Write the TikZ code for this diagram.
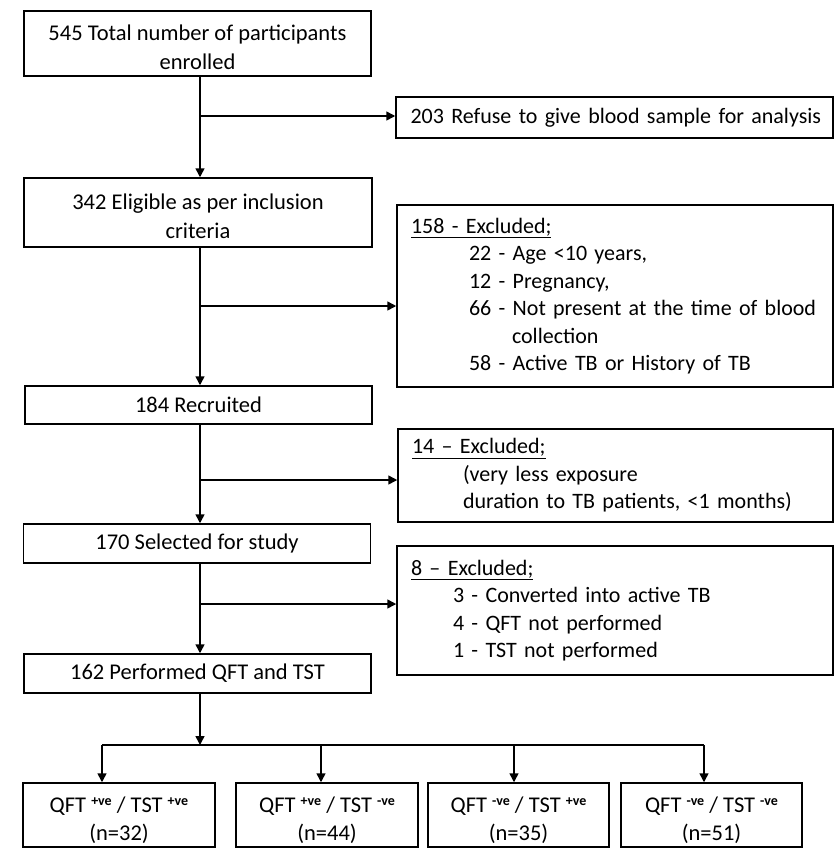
\documentclass[tikz,border=0pt]{standalone}
\usepackage{fontspec}
\setmainfont{Carlito}
\usetikzlibrary{arrows.meta}
\newcommand{\sgn}[1]{\raisebox{6.5pt}{\fontsize{14}{14}\selectfont\bfseries #1}}
\newcommand{\rowline}[2]{\mbox{\hspace*{#1pt}#2}}
\newcommand{\topstrut}[1]{\rule{0pt}{#1pt}}
\begin{document}
\begin{tikzpicture}[x=1pt,y=-1pt,
  box/.style={draw, line width=1.5pt, inner sep=0pt, align=center,
    font=\fontsize{22.5}{29.5}\selectfont},
  lbox/.style={draw, line width=1.5pt, inner xsep=14pt, inner ysep=0pt, align=left,
    font=\fontsize{22}{27.5}\selectfont},
  qbox/.style={draw, line width=1.5pt, inner sep=0pt, align=center,
    minimum height=64pt, font=\fontsize{22.5}{28}\selectfont},
  arr/.style={line width=1.5pt, -{Triangle[length=9pt,width=9pt]}},
  ln/.style={line width=1.5pt}]
\useasboundingbox (0,0) rectangle (835,855);

% main column
\node[box, minimum width=347pt, minimum height=65pt] (n545) at (197.5,43.5)
  {\topstrut{23}545 Total number of participants\\enrolled};
\node[box, minimum width=348pt, minimum height=69pt] (n342) at (198,212.5)
  {\topstrut{23}342 Eligible as per inclusion\\criteria};
\node[box, minimum width=347pt, minimum height=38pt] (n184) at (198.5,405)
  {184 Recruited};
\node[box, minimum width=347pt, minimum height=39pt] (n170) at (197,543.5)
  {170 Selected for study};
\node[box, minimum width=347pt, minimum height=39pt] (n162) at (197.5,673.5)
  {162 Performed QFT and TST};

% side boxes
\node[lbox, minimum height=41pt, text width=408pt, inner xsep=14.5pt] (r203) at (614.5,117.5)
  {\rowline{0}{203 Refuse to give blood sample for analysis}};
\node[lbox, minimum height=182pt, text width=408pt] (r158) at (615,296)
  {\rowline{0}{\underline{158 - Excluded;}}\\
   \rowline{58}{22 - Age <10 years,}\\
   \rowline{58}{12 - Pregnancy,}\\
   \rowline{58}{66 - Not present at the time of blood}\\
   \rowline{101}{collection}\\
   \rowline{58}{58 - Active TB or History of TB}};
\node[lbox, minimum height=93pt, text width=407pt] (r14) at (615.5,475.5)
  {\rowline{0}{\underline{14 – Excluded;}}\\
   \rowline{51}{(very less exposure}\\
   \rowline{51}{duration to TB patients, <1 months)}};
\node[lbox, minimum height=129pt, text width=408pt] (r8) at (615,610.5)
  {\rowline{0}{\underline{8 – Excluded;}}\\
   \rowline{42}{3 - Converted into active TB}\\
   \rowline{42}{4 - QFT not performed}\\
   \rowline{42}{1 - TST not performed}};

% bottom boxes
\node[qbox, minimum width=192pt] (qa) at (119,815)
  {\topstrut{26}QFT \sgn{+ve} / TST \sgn{+ve}\\(n=32)};
\node[qbox, minimum width=182pt] (qb) at (327,815)
  {\topstrut{26}QFT \sgn{+ve} / TST \sgn{-ve}\\(n=44)};
\node[qbox, minimum width=181pt] (qc) at (518.5,815)
  {\topstrut{26}QFT \sgn{-ve} / TST \sgn{+ve}\\(n=35)};
\node[qbox, minimum width=181pt] (qd) at (711.5,815)
  {\topstrut{26}QFT \sgn{-ve} / TST \sgn{-ve}\\(n=51)};

% branch coordinates on the main line
\coordinate (b1) at (200,116);
\coordinate (b2) at (200,306);
\coordinate (b3) at (200,480);
\coordinate (b4) at (200,604);

% main flow
\draw[arr] (n545.south -| b1) -- (n342.north -| b1);
\draw[arr] (b1) -- (b1 -| r203.west);
\draw[arr] (n342.south -| b2) -- (n184.north -| b2);
\draw[arr] (b2) -- (b2 -| r158.west);
\draw[arr] (n184.south -| b3) -- (n170.north -| b3);
\draw[arr] (b3) -- (b3 -| r14.west);
\draw[arr] (n170.south -| b4) -- (n162.north -| b4);
\draw[arr] (b4) -- (b4 -| r8.west);

% split to four groups
\coordinate (bus) at (200,745);
\coordinate (ba) at (102,745);
\coordinate (bb) at (321,745);
\coordinate (bc) at (514,745);
\coordinate (bd) at (704,745);
\draw[arr] (n162.south -| bus) -- (bus);
\draw[ln] (ba) -- (bd);
\draw[arr] (ba) -- (ba |- qa.north);
\draw[arr] (bb) -- (bb |- qb.north);
\draw[arr] (bc) -- (bc |- qc.north);
\draw[arr] (bd) -- (bd |- qd.north);
\end{tikzpicture}
\end{document}
